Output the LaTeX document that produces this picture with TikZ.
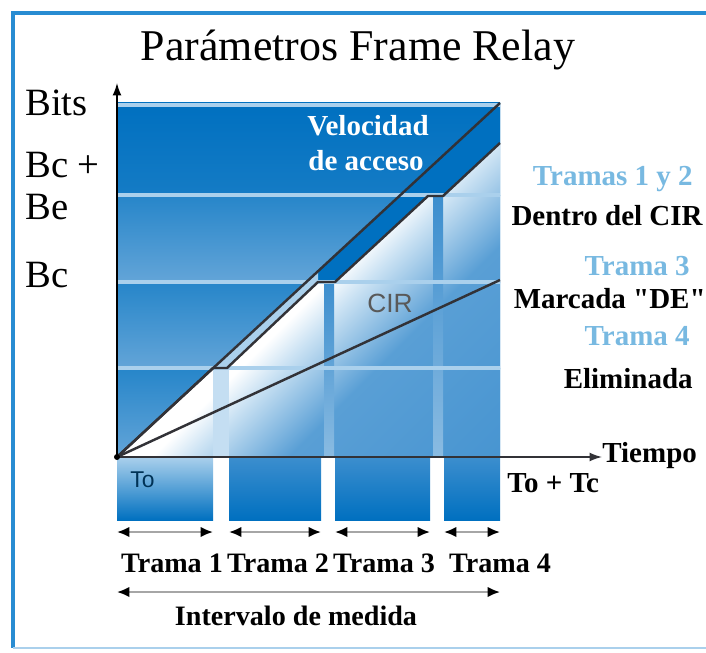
\documentclass[tikz,border=0pt]{standalone}
\usepackage{fontspec}
\setmainfont{Liberation Serif}
\newfontfamily\sansf{Liberation Sans}
\newfontfamily\quotef{Liberation Serif}
\usetikzlibrary{positioning,arrows.meta}
\definecolor{frdark}{RGB}{0,112,192}
\definecolor{frmid}{RGB}{60,142,206}
\definecolor{frlight}{RGB}{170,208,236}
\definecolor{frtext}{RGB}{120,185,225}
\definecolor{frline}{RGB}{50,50,55}
\definecolor{frframe}{RGB}{40,140,210}
\pgfdeclareverticalshading{frfade}{100bp}{color(0bp)=(frmid); color(36bp)=(frmid!85!white); color(46bp)=(frlight!60!white); color(50bp)=(white); color(100bp)=(white)}

\begin{document}
\begin{tikzpicture}[x=0.02cm, y=-0.02cm, every node/.style={inner sep=0pt},
  graph/.style={draw=frline, line width=1.4pt, line join=round},
  span/.style={draw=black!35, line width=1.2pt, {Latex[black,length=7pt,width=6pt]}-{Latex[black,length=7pt,width=6pt]}},
  axislbl/.style={font=\fontsize{22}{24}\selectfont},
  side/.style={font=\fontsize{16.5}{18}\selectfont\bfseries},
  sideblue/.style={side, text=frtext},
  framelbl/.style={font=\fontsize{16}{18}\selectfont\bfseries}]
  \useasboundingbox (0,0) rectangle (706,652);
  % marco
  \draw[frframe, line width=2pt] (720,13) -- (13,13) -- (13,648);
  \draw[frlight, line width=1.5pt] (13,648) -- (720,648);

  % fondo del grafico
  \shade[top color=frdark, bottom color=frdark!92!white] (117,103) rectangle (500,195);
  \foreach \ya/\yb in {195/282,282/368,368/457}
    \shade[top color=frdark!85!white, bottom color=frmid!80!white] (117,\ya) rectangle (500,\yb);
  \shade[shading=frfade, shading angle=45] (117,457) -- (213,368) -- (227,368) -- (318,282) -- (335,282)
    -- (428,196) -- (443,196) -- (500,143) -- (500,457) -- cycle;
  \fill[frlight!70!white] (213,368) rectangle (229,457);
  \shade[top color=frmid, bottom color=frmid!60!white] (324,282) rectangle (334,457);
  \shade[top color=frmid, bottom color=frmid!60!white] (433,196) rectangle (443,457);
  \fill[frdark] (318,271) -- (500,103) -- (500,143) -- (443,196) -- (428,196) -- (335,282) -- (318,282) -- cycle;
  \fill[frlight] (213,368) -- (318,271) -- (318,282) -- (227,368) -- cycle;
  \foreach \y in {105,195,282,368}
    \draw[frlight, line width=2.5pt] (117,\y) -- (500,\y);

  % tramas bajo el eje
  \shade[top color=frlight, bottom color=frdark] (117,457) rectangle (213,520);
  \foreach \xa/\xb in {229/321,335/430,444/500}
    \shade[top color=frmid, bottom color=frdark] (\xa,457) rectangle (\xb,520);

  % ejes
  \coordinate (o) at (117,457);
  \coordinate (ytip) at (117,83);
  \node[side, anchor=base west] (tiempo) at (602,462) {Tiempo};
  \draw[-{Latex[length=7pt,width=5pt]}, line width=0.8pt] (o) -- (ytip);
  \draw[-{Latex[length=7pt,width=5pt]}, draw=frline, line width=0.8pt] (o) -- (o -| tiempo.west);

  % rectas
  \coordinate (acc) at (500,103);
  \coordinate (cir) at (500,280);
  \draw[graph] (o) -- (acc);
  \draw[graph] (o) -- (213,368) -- (227,368) -- (318,282) -- (335,282) -- (428,196) -- (443,196) -- (500,143);
  \draw[graph] (o) -- (cir);
  \fill[black] (o) circle (3);

  % textos
  \node[font=\fontsize{25}{27}\selectfont, anchor=base] (titulo) at (358,61) {Parámetros Frame Relay};
  \node[axislbl, anchor=base west] (bits) at (25,115) {Bits};
  \node[axislbl, anchor=base west] (bcbe) at (25,177) {Bc +};
  \node[axislbl, anchor=base west] (be) at (25,219) {Be};
  \node[axislbl, anchor=base west] (bc) at (25,287) {Bc};
  \node[side, text=white, anchor=base] (vel) at (368,135) {Velocidad};
  \node[side, text=white, anchor=base] (acceso) at (366,170) {de acceso};
  \node[font=\sansf\fontsize{15}{16}\selectfont, text=black!65, anchor=base west] (cirlbl) at (367,312) {CIR};
  \node[font=\sansf\fontsize{13}{14}\selectfont, text=black!55!frdark, anchor=base west] (to) at (130,487) {To};

  \node[sideblue, anchor=base east] (tr12) at (693,185) {Tramas 1 y 2};
  \node[side, anchor=base east] (dentro) at (703,225) {Dentro del CIR};
  \node[sideblue, anchor=base east] (tr3) at (690,275) {Trama 3};
  \node[side, anchor=base east] (marcada) at (706,308) {Marcada {\quotef"}DE{\quotef"}};
  \node[sideblue, anchor=base east] (tr4) at (690,345) {Trama 4};
  \node[side, anchor=base east] (elim) at (693,388) {Eliminada};
  \node[side, anchor=base west] (totc) at (507,492) {To + Tc};

  % duracion de cada trama
  \foreach \i/\xa/\xb in {1/117/213,2/229/321,3/335/430,4/444/500} {
    \coordinate (s\i a) at (\xa,532);
    \coordinate (s\i b) at (\xb,532);
    \draw[span] (s\i a) -- (s\i b);
  }
  \foreach \i/\x in {1/172,2/278,3/384,4/500}
    \node[framelbl, anchor=base] (t\i) at (\x,572) {Trama \i};

  \coordinate (ma) at (117,592);
  \coordinate (mb) at (500,592);
  \draw[span] (ma) -- (mb);
  \node[framelbl, anchor=base] (medida) at (296,625) {Intervalo de medida};
\end{tikzpicture}
\end{document}
